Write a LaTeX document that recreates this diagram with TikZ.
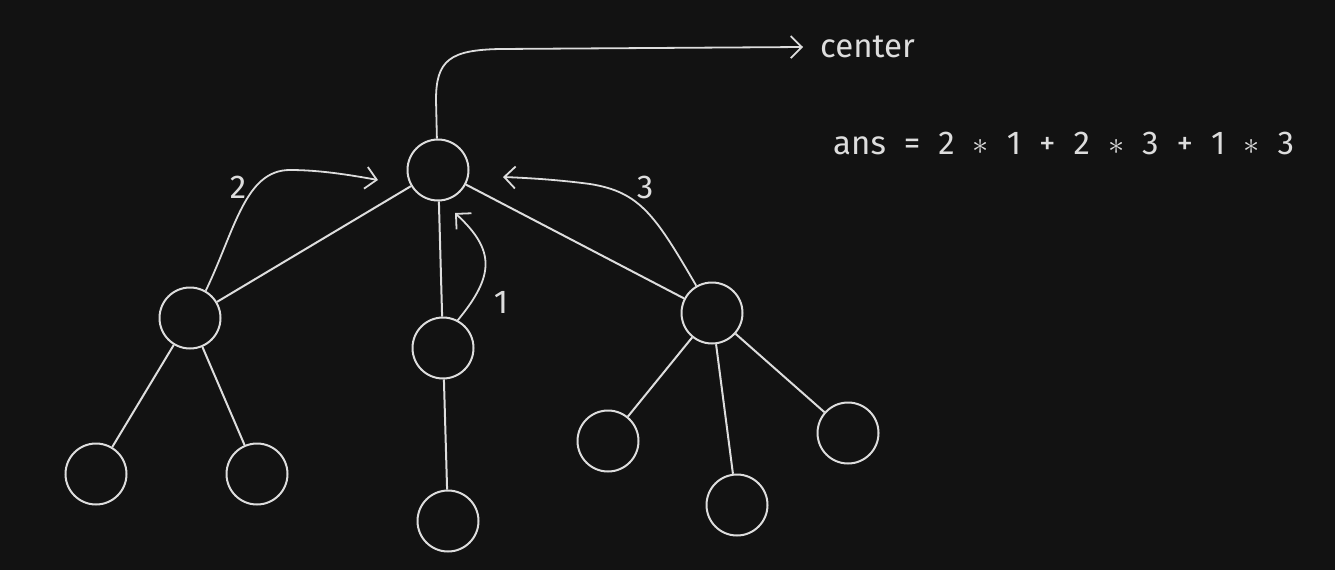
\documentclass[tikz,border=0pt]{standalone}
\usepackage{fontspec}
\setmainfont{Fira Sans}
\usetikzlibrary{arrows.meta}
\usepackage{graphicx}
\definecolor{bg}{HTML}{121212}
\definecolor{ink}{HTML}{DDDDDD}
\newcommand\gp{\hspace{18pt}}
\newcommand\mul{\scalebox{1.3}{$*$}}
\begin{document}
\begin{tikzpicture}[x=1pt,y=-1pt,
  vert/.style={circle,draw=ink,line width=2pt,minimum size=61pt,inner sep=0pt},
  edge/.style={draw=ink,line width=2pt},
  arr/.style={draw=ink,line width=1.8pt,-{Straight Barb[length=11pt,width=22pt,line width=1.8pt]}},
  lbl/.style={text=ink,font=\fontsize{33}{36}\selectfont,inner sep=0pt}]
\fill[bg] (0,0) rectangle (1335,570);
\useasboundingbox (0,0) rectangle (1335,570);
% nodes
\node[vert] (root) at (438,170) {};
\node[vert] (L) at (190,318) {};
\node[vert] (M) at (443,348) {};
\node[vert] (R) at (712,313) {};
\node[vert] (LL) at (96,474) {};
\node[vert] (LR) at (257,474) {};
\node[vert] (MM) at (448,521) {};
\node[vert] (R1) at (608,441) {};
\node[vert] (R2) at (737,505) {};
\node[vert] (R3) at (848,433) {};
% tree edges
\draw[edge] (root) -- (L);
\draw[edge] (root) -- (M);
\draw[edge] (root) -- (R);
\draw[edge] (L) -- (LL);
\draw[edge] (L) -- (LR);
\draw[edge] (M) -- (MM);
\draw[edge] (R) -- (R1);
\draw[edge] (R) -- (R2);
\draw[edge] (R) -- (R3);
% texts
\node[lbl,anchor=west] (center) at (820,47) {center};
\node[lbl,anchor=west] (ans) at (833,143) {ans\gp=\gp2\gp\mul\gp1\gp+\gp2\gp\mul\gp3\gp+\gp1\gp\mul\gp3};
\node[lbl] (l2) at (238,187) {2};
\node[lbl] (l1) at (501,302) {1};
\node[lbl] (l3) at (645,187) {3};
% arrow targets
\coordinate (c2) at (378,180);
\coordinate (c1) at (455,213);
\coordinate (c3) at (503,177);
\coordinate (cc) at (803,47);
% arrows
\draw[arr] (L.60) .. controls (235,230) and (245,170) .. (290,170) .. controls (320,170) and (350,175) .. (c2);
\draw[arr] (M.62) .. controls (495,275) and (495,250) .. (c1);
\draw[arr] (R.120) .. controls (655,215) and (640,192) .. (590,184) .. controls (560,180) and (530,178) .. (c3);
\draw[arr] (root.92) -- (436,100) .. controls (436,60) and (450,50) .. (500,49) -- (cc);
\end{tikzpicture}
\end{document}
